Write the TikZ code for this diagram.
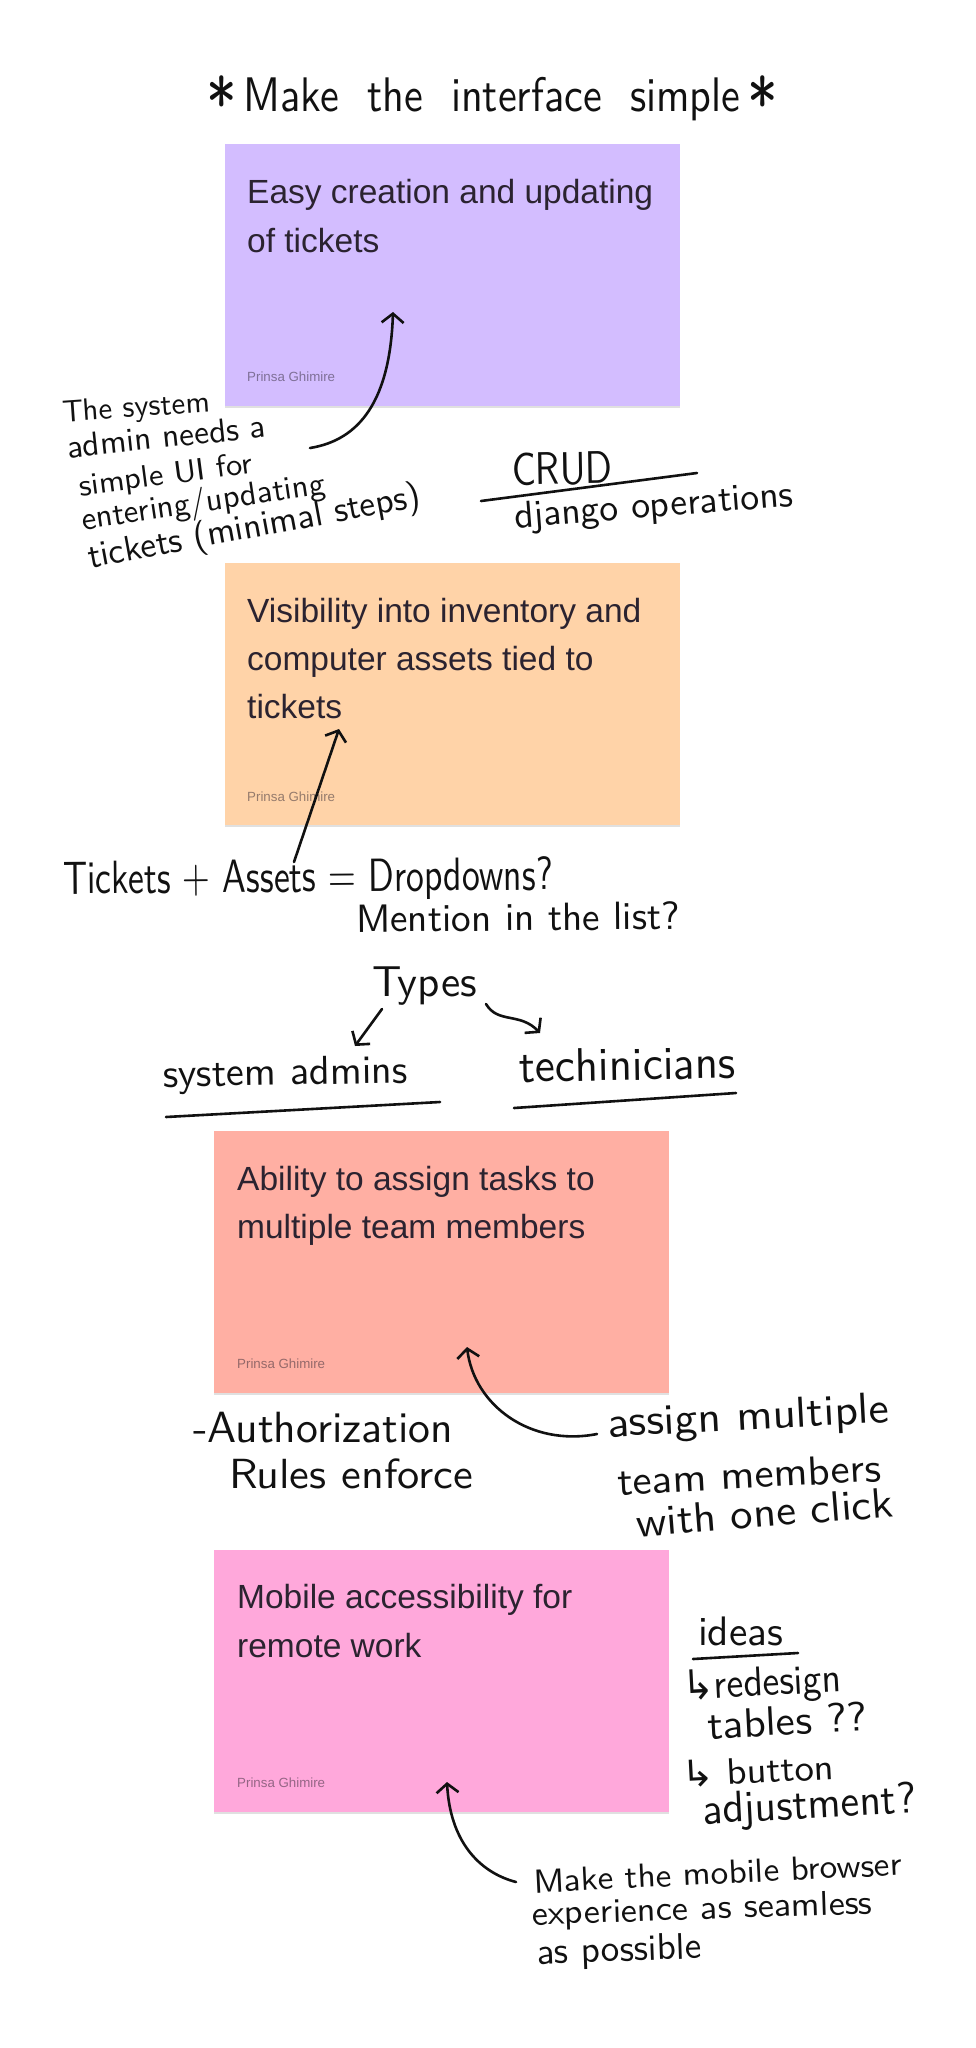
\documentclass[tikz,border=0pt]{standalone}
\usepackage{fontspec}
\usepackage{graphicx}
\setmainfont{Liberation Sans}
\newfontfamily\symfont{DejaVu Sans}
\usetikzlibrary{arrows.meta,calc,shadows}
\definecolor{stvio}{HTML}{D3BDFF}
\definecolor{storg}{HTML}{FFD3A8}
\definecolor{stred}{HTML}{FFAFA3}
\definecolor{stpnk}{HTML}{FFA8DB}
\definecolor{sttxt}{HTML}{2B2330}
\definecolor{pen}{HTML}{111111}
\newcommand{\hw}[3]{\resizebox{#1}{!}{\scalebox{1}[#2]{#3}}}
\newcommand{\bigast}{\scalebox{1.45}{\raisebox{-0.25em}{*}}}
\newcommand{\hook}{{\symfont ↳}}
\begin{document}
\begin{tikzpicture}[x=1pt,y=-1pt,
  sticky/.style={draw=none, minimum width=455pt, minimum height=262pt, inner sep=0pt, anchor=north west,
    drop shadow={shadow xshift=0pt, shadow yshift=-2pt, opacity=0.12, fill=black}},
  stxt/.style={anchor=base west, inner sep=0pt, text=sttxt, font=\fontsize{33.5}{40}\selectfont},
  sfoot/.style={anchor=base west, inner sep=0pt, text=sttxt, text opacity=0.5, font=\fontsize{13.3}{16}\selectfont},
  hwn/.style={anchor=base west, inner sep=0pt, outer sep=0pt, text=pen, font=\sffamily},
  penline/.style={draw=pen, line width=2.6pt, line cap=round, line join=round},
  penarrow/.style={penline, -{Straight Barb[length=9pt,width=22pt]}}
]
\path[fill=white, use as bounding box] (0,0) rectangle (975,2048);

% sticky notes
\node[sticky, fill=stvio] (st1) at (225,144) {};
\node[sticky, fill=storg] (st2) at (225,563) {};
\node[sticky, fill=stred] (st3) at (214,1131) {};
\node[sticky, fill=stpnk] (st4) at (214,1550) {};

\node[stxt] (t1a) at ($(st1.north west)+(22,59)$) {Easy creation and updating};
\node[stxt] (t1b) at ($(st1.north west)+(22,108)$) {of tickets};
\node[sfoot] (f1) at ($(st1.south west)+(22,-25)$) {Prinsa Ghimire};

\node[stxt] (t2a) at ($(st2.north west)+(22,59)$) {Visibility into inventory and};
\node[stxt] (t2b) at ($(st2.north west)+(22,107)$) {computer assets tied to};
\node[stxt] (t2c) at ($(st2.north west)+(22,155)$) {tickets};
\node[sfoot] (f2) at ($(st2.south west)+(22,-24)$) {Prinsa Ghimire};

\node[stxt] (t3a) at ($(st3.north west)+(23,59)$) {Ability to assign tasks to};
\node[stxt] (t3b) at ($(st3.north west)+(23,107)$) {multiple team members};
\node[sfoot] (f3) at ($(st3.south west)+(23,-25)$) {Prinsa Ghimire};

\node[stxt] (t4a) at ($(st4.north west)+(23,58)$) {Mobile accessibility for};
\node[stxt] (t4b) at ($(st4.north west)+(23,107)$) {remote work};
\node[sfoot] (f4) at ($(st4.south west)+(23,-25)$) {Prinsa Ghimire};

% handwriting
\node[hwn] (title) at (206,111) {\hw{572pt}{1.15}{\bigast\,Make\ \ the\ \ interface\ \ simple\,\bigast}};

\node[hwn, rotate=4] (h1) at (63,422) {\hw{148pt}{1.0}{The system}};
\node[hwn, rotate=6] (h2) at (68,458) {\hw{200pt}{1.0}{admin needs a}};
\node[hwn, rotate=7.5] (h3) at (80,496) {\hw{175pt}{0.95}{simple UI for}};
\node[hwn, rotate=8.5] (h4) at (83,530) {\hw{246pt}{1.0}{entering/updating}};
\node[hwn, rotate=10.5] (h5) at (90,568) {\hw{338pt}{1.0}{tickets (minimal steps)}};

\node[hwn, rotate=1] (h6) at (512,485) {\hw{101pt}{1.22}{CRUD}};
\node[hwn, rotate=4.5] (h7) at (515,528) {\hw{280pt}{1.0}{django operations}};

\node[hwn, rotate=0.5] (h8) at (63,894) {\hw{490pt}{1.3}{Tickets + Assets = Dropdowns?}};
\node[hwn, rotate=0.5] (h9) at (356,932) {\hw{324pt}{1.0}{Mention in the list?}};

\node[hwn] (h10) at (372,996) {\hw{105pt}{1.0}{Types}};
\node[hwn, rotate=1] (h11) at (163,1087) {\hw{245pt}{1.0}{system admins}};
\node[hwn, rotate=1] (h12) at (519,1082) {\hw{217pt}{1.05}{techinicians}};

\node[hwn] (h13) at (193,1442) {\hw{260pt}{1.0}{-Authorization}};
\node[hwn] (h14) at (229,1488) {\hw{244pt}{0.95}{Rules enforce}};

\node[hwn, rotate=3] (h15) at (608,1437) {\hw{282pt}{0.95}{assign multiple}};
\node[hwn, rotate=3] (h16) at (618,1495) {\hw{264pt}{0.95}{team members}};
\node[hwn, rotate=4.5] (h17) at (637,1537) {\hw{258pt}{0.95}{with one click}};

\node[hwn] (h18) at (698,1645) {\hw{85pt}{1.0}{ideas}};
\node[hwn, rotate=3] (h19) at (683,1700) {\hw{159pt}{1.1}{\hook redesign}};
\node[hwn, rotate=3] (h20) at (708,1739) {\hw{160pt}{0.95}{tables ??}};
\node[hwn, rotate=3] (h21) at (682,1787) {\hw{153pt}{0.95}{\hook\ button}};
\node[hwn, rotate=3] (h22) at (703,1824) {\hw{214pt}{1.05}{adjustment?}};

\node[hwn, rotate=2.8] (h23) at (534,1893) {\hw{369pt}{0.95}{Make the mobile browser}};
\node[hwn, rotate=1.9] (h24) at (532,1925) {\hw{341pt}{0.95}{experience as seamless}};
\node[hwn, rotate=2] (h25) at (537,1964) {\hw{165pt}{1.0}{as possible}};

% connector end points
\coordinate (a1s) at (310,448);  \coordinate (a1t) at (393,312);
\coordinate (a2s) at (294,862);  \coordinate (a2t) at (339,729);
\coordinate (a3s) at (597,1434); \coordinate (a3t) at (467,1347);
\coordinate (a4s) at (516,1882); \coordinate (a4t) at (447,1782);
\coordinate (a5s) at (382,1009); \coordinate (a5t) at (355,1046);
\coordinate (a6s) at (486,1004); \coordinate (a6t) at (540,1033);

\coordinate (u1a) at (481,501);  \coordinate (u1b) at (697,473);
\coordinate (u2a) at (166,1117); \coordinate (u2b) at (440,1102);
\coordinate (u3a) at (514,1108); \coordinate (u3b) at (736,1093);
\coordinate (u4a) at (693,1659); \coordinate (u4b) at (798,1653);

% connectors
\draw[penarrow] (a1s) .. controls (360,440) and (390,400) .. (a1t);
\draw[penarrow] (a2s) -- (a2t);
\draw[penarrow] (a3s) .. controls (530,1447) and (474,1405) .. (a3t);
\draw[penarrow] (a4s) .. controls (478,1872) and (450,1840) .. (a4t);
\draw[penarrow] (a5s) -- (a5t);
\draw[penarrow] (a6s) .. controls (498,1024) and (520,1012) .. (a6t);

\draw[penline] (u1a) -- (u1b);
\draw[penline] (u2a) -- (u2b);
\draw[penline] (u3a) -- (u3b);
\draw[penline] (u4a) -- (u4b);
\end{tikzpicture}
\end{document}
